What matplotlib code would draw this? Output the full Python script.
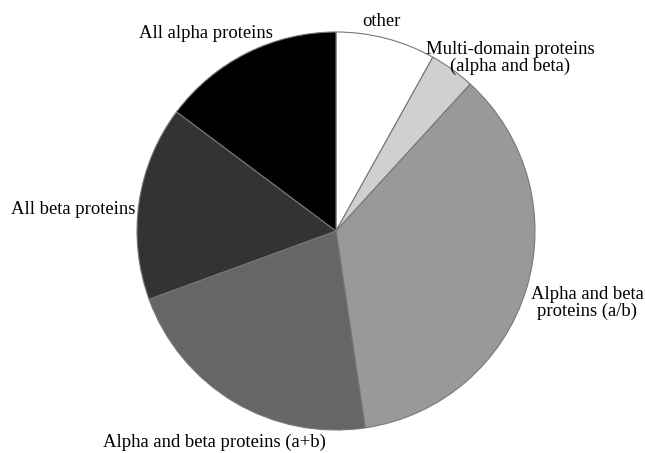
import matplotlib.pyplot as plt

# slice shares in percent, clockwise from 12 o'clock
categories = ["other", "Multi-domain proteins\n(alpha and beta)",
              "Alpha and beta\nproteins (a/b)", "Alpha and beta proteins (a+b)",
              "All beta proteins", "All alpha proteins"]
shares = [8.1, 3.7, 35.9, 21.8, 15.8, 14.8]
colors = ["#ffffff", "#d0d0d0", "#999999", "#666666", "#333333", "#000000"]

W, H = 645, 453
cx, cy, r = 336, 231, 199

fig = plt.figure(figsize=(W / 100, H / 100), dpi=100)
ax = fig.add_axes([0, 0, 1, 1])

ax.pie(shares, colors=colors, startangle=90, counterclock=False, radius=1,
       wedgeprops=dict(edgecolor="#777777", linewidth=0.8))

# pie() resets the limits, so set them afterwards (1 unit = r pixels)
ax.set_xlim(-cx / r, (W - cx) / r)
ax.set_ylim(-(H - cy) / r, cy / r)
ax.set_aspect("equal")
ax.axis("off")

# label positions in pixels (centre of text)
label_px = [(381, 22), (510, 58), (587, 303), (214, 442), (73, 209), (206, 33)]
for text, (px, py) in zip(categories, label_px):
    ax.text((px - cx) / r, (cy - py) / r, text, ha="center", va="center",
            fontsize=13.4, family="Liberation Serif", linespacing=1.05)

fig.savefig("out.png", dpi=100)
